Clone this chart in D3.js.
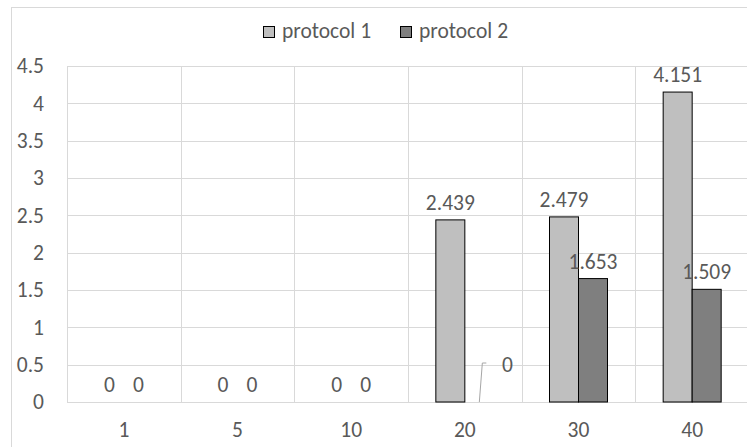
<!DOCTYPE html>
<html>
<head>
<meta charset="utf-8">
<script src="https://cdn.jsdelivr.net/npm/d3@7"></script>
<style>
  body { margin: 0; background: #fff; }
  text { font-family: Calibri, Carlito, Lato, sans-serif; fill: #595959; }
</style>
</head>
<body>
<div id="chart"></div>
<script>
// chart data
const categories = ["1", "5", "10", "20", "30", "40"];
const seriesNames = ["protocol 1", "protocol 2"];
const protocol1 = [0, 0, 0, 2.439, 2.479, 4.151];
const protocol2 = [0, 0, 0, 0, 1.653, 1.509];
const yTicks = [0, 0.5, 1, 1.5, 2, 2.5, 3, 3.5, 4, 4.5];

(function() {
    const W = 747, H = 447;
    const margin = { top: 66, right: -2, bottom: 45, left: 67 };
    const colors = ["#bfbfbf", "#7f7f7f"];
    const fontSize = "21.5px";

    const data = categories.map((c, i) => ({ cat: c, values: [protocol1[i], protocol2[i]] }));

    const svg = d3.select("#chart").append("svg")
        .attr("width", W)
        .attr("height", H);

    // outer chart border
    svg.append("rect")
        .attr("x", 11.5).attr("y", 7.5)
        .attr("width", 900).attr("height", 600)
        .attr("fill", "none")
        .attr("stroke", "#d9d9d9");

    const x0 = d3.scaleBand()
        .domain(categories)
        .range([margin.left, W - margin.right])
        .paddingInner(0);

    const x1 = d3.scaleBand()
        .domain([0, 1])
        .range([0, x0.bandwidth()])
        .paddingInner(0)
        .paddingOuter(0.96);

    const y = d3.scaleLinear()
        .domain([0, 4.5])
        .range([H - margin.bottom, margin.top]);

    // horizontal gridlines
    svg.append("g")
        .selectAll("line")
        .data(yTicks)
        .join("line")
        .attr("x1", margin.left)
        .attr("x2", W)
        .attr("y1", d => Math.round(y(d)) + 0.5)
        .attr("y2", d => Math.round(y(d)) + 0.5)
        .attr("stroke", "#d9d9d9");

    // vertical gridlines between categories
    svg.append("g")
        .selectAll("line")
        .data(categories)
        .join("line")
        .attr("x1", d => Math.round(x0(d)) + 0.5)
        .attr("x2", d => Math.round(x0(d)) + 0.5)
        .attr("y1", y(4.5))
        .attr("y2", y(0))
        .attr("stroke", "#d9d9d9");

    // y axis labels
    const yAxis = svg.append("g")
        .attr("transform", "translate(" + margin.left + ",0)")
        .call(d3.axisLeft(y).tickValues(yTicks).tickSize(0).tickPadding(23).tickFormat(d3.format("")));
    yAxis.select(".domain").remove();
    yAxis.selectAll("text")
        .style("font-size", fontSize)
        .attr("fill", "#595959");

    // x axis labels
    const xAxis = svg.append("g")
        .attr("transform", "translate(0," + y(0) + ")")
        .call(d3.axisBottom(x0).tickSize(0).tickPadding(20));
    xAxis.select(".domain").remove();
    xAxis.selectAll("text")
        .style("font-size", fontSize)
        .attr("fill", "#595959");

    // bars
    const groups = svg.append("g")
        .selectAll("g")
        .data(data)
        .join("g")
        .attr("transform", d => "translate(" + x0(d.cat) + ",0)");

    groups.selectAll("rect")
        .data(d => d.values.map((v, k) => ({ k, v, cat: d.cat })))
        .join("rect")
        .filter(d => d.v > 0)
        .attr("x", d => x1(d.k))
        .attr("y", d => y(d.v))
        .attr("width", x1.bandwidth())
        .attr("height", d => y(0) - y(d.v))
        .attr("fill", d => colors[d.k])
        .attr("stroke", "#000")
        .attr("stroke-width", 1);

    // data labels
    groups.selectAll("text.lbl")
        .data(d => d.values.map((v, k) => ({ k, v, cat: d.cat })))
        .join("text")
        .attr("class", "lbl")
        .attr("x", d => x1(d.k) + x1.bandwidth() / 2)
        .attr("y", d => y(d.v) - 10)
        .attr("text-anchor", "middle")
        .style("font-size", fontSize)
        .text(d => d3.format("")(d.v))
        .each(function(d) {
            // label moved by hand in the original, with a leader line
            if (d.cat === "20" && d.k === 1) {
                const cx = x1(d.k) + x1.bandwidth() / 2;
                d3.select(this)
                    .attr("x", cx + 28)
                    .attr("y", y(0) - 30);
                d3.select(this.parentNode).append("path")
                    .attr("d", "M" + cx + "," + y(0) + "L" + (cx + 3) + "," + (y(0) - 39) + "L" + (cx + 7) + "," + (y(0) - 39))
                    .attr("fill", "none")
                    .attr("stroke", "#a6a6a6")
                    .attr("stroke-width", 1);
            }
        });

    // legend
    const legend = svg.append("g").attr("transform", "translate(263,26)");
    const legendX = [0, 137];
    seriesNames.forEach((name, i) => {
        legend.append("rect")
            .attr("x", legendX[i] + 0.5)
            .attr("y", 0.5)
            .attr("width", 11)
            .attr("height", 11)
            .attr("fill", colors[i])
            .attr("stroke", "#000");
        legend.append("text")
            .attr("x", legendX[i] + 19)
            .attr("y", 12)
            .style("font-size", fontSize)
            .text(name);
    });
})();
</script>
</body>
</html>
